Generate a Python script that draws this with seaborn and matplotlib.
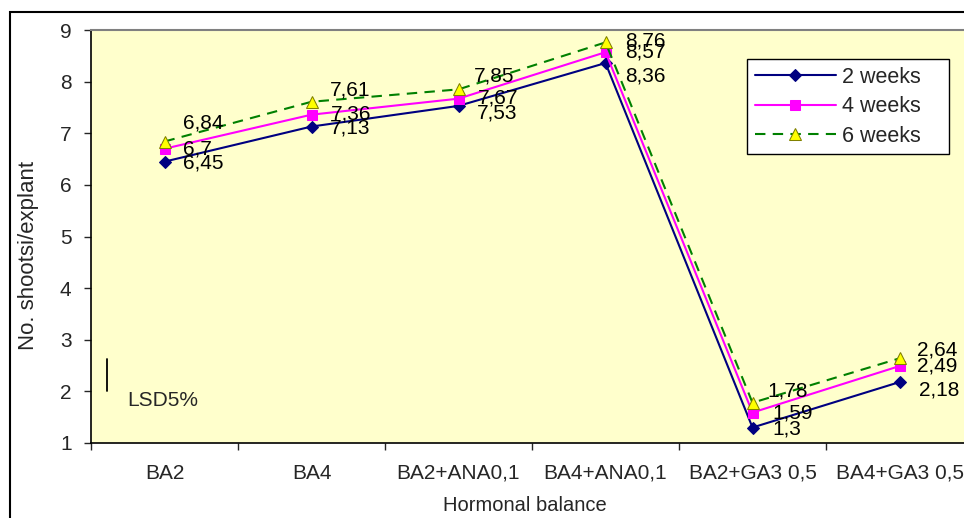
import numpy as np
import pandas as pd
import matplotlib
matplotlib.use("Agg")
import matplotlib.pyplot as plt
import seaborn as sns
from matplotlib.patches import Rectangle

# data
balances = ["BA2", "BA4", "BA2+ANA0,1", "BA4+ANA0,1", "BA2+GA3 0,5", "BA4+GA3 0,5"]
weeks2 = [6.45, 7.13, 7.53, 8.36, 1.3, 2.18]
weeks4 = [6.7, 7.36, 7.67, 8.57, 1.59, 2.49]
weeks6 = [6.84, 7.61, 7.85, 8.76, 1.78, 2.64]
series_names = ["2 weeks", "4 weeks", "6 weeks"]
lsd_base = 2.0
lsd_value = 0.62

# label nudges in pixels (dx right, dy down)
label_offsets = {
    "2 weeks": [(18, 1), (18, 1), (18, 7), (20, 13), (20, 1), (20, 8)],
    "4 weeks": [(18, 0), (19, -1), (19, -1), (20, 0), (20, 0), (18, 0)],
    "6 weeks": [(18, -19), (18, -12), (15, -13), (20, -1), (15, -12), (18, -8)],
}

styles = {
    "2 weeks": dict(color="#000080", marker="D", markersize=6.5, markerfacecolor="#000080",
                    markeredgecolor="#000080", linestyle="-"),
    "4 weeks": dict(color="#FF00FF", marker="s", markersize=7, markerfacecolor="#FF00FF",
                    markeredgecolor="#FF00FF", linestyle="-"),
    "6 weeks": dict(color="#008000", marker="^", markersize=8.5, markerfacecolor="#FFFF00",
                    markeredgecolor="#808000", linestyle=(0, (5, 3.5))),
}

df = pd.DataFrame({
    "pos": np.tile(np.arange(len(balances)), 3),
    "shoots": weeks2 + weeks4 + weeks6,
    "period": np.repeat(series_names, len(balances)),
})


def fmt(v):
    return f"{v:g}".replace(".", ",")


def main():
    sns.set_style("white")
    plt.rcParams["font.family"] = ["Liberation Sans", "DejaVu Sans"]

    fig = plt.figure(figsize=(9.64, 5.18), dpi=100)
    ax = fig.add_axes([91 / 964, 75 / 518, 882 / 964, 413 / 518])
    ax.set_facecolor("#FFFFCC")

    for name in series_names:
        sub = df[df["period"] == name]
        sns.lineplot(data=sub, x="pos", y="shoots", ax=ax, label=name,
                     linewidth=1.5, sort=False, **styles[name])
        for (x, y), (dx, dy) in zip(zip(sub["pos"], sub["shoots"]), label_offsets[name]):
            ax.annotate(fmt(y), (x, y), xytext=(dx, -dy), textcoords="offset pixels",
                        ha="left", va="center", fontsize=15, color="black")

    # LSD bar
    ax.plot([-0.391, -0.391], [lsd_base, lsd_base + lsd_value], color="black", lw=1.3)
    ax.text(-0.255, 1.83, "LSD5%", ha="left", va="center", fontsize=15)

    ax.set_xlim(-0.5, len(balances) - 0.5)
    ax.set_ylim(1, 9)
    ax.set_yticks(range(1, 10))
    ax.set_xticks(np.arange(len(balances) + 1) - 0.5)
    ax.set_xticklabels([])
    ax.set_xticks(np.arange(len(balances)), minor=True)
    ax.set_xticklabels(balances, minor=True)
    ax.tick_params(axis="x", which="major", direction="out", length=5, width=1, bottom=True)
    ax.tick_params(axis="x", which="minor", length=0, pad=15, labelsize=15)
    ax.tick_params(axis="y", direction="out", length=5, width=1, left=True, pad=9, labelsize=15)

    for side in ["left", "bottom"]:
        ax.spines[side].set_color("black")
        ax.spines[side].set_linewidth(1.2)
    ax.spines["top"].set_color("#808080")
    ax.spines["top"].set_linewidth(1.5)
    ax.spines["right"].set_visible(False)

    ax.set_xlabel("Hormonal balance", fontsize=14.5)
    ax.xaxis.set_label_coords((525 - 91) / 882, -(496 - 443) / 413)
    ax.set_ylabel("No. shootsi/explant", fontsize=16)
    ax.yaxis.set_label_coords(-(91 - 39) / 882, (443 - 255) / 413)

    leg = ax.legend(loc="upper left",
                    bbox_to_anchor=(747 / 964, 1 - 153 / 518, 202 / 964, 94 / 518),
                    bbox_transform=fig.transFigure, mode="expand", fontsize=15.5,
                    frameon=True, fancybox=False, framealpha=1, edgecolor="black",
                    handlelength=3.8, handletextpad=0.25, labelspacing=0.4,
                    borderpad=0.35, borderaxespad=0)
    leg.get_frame().set_linewidth(1)

    # outer chart border
    fig.patches.append(Rectangle((10 / 964, -0.1), 1.2, 1 - 12 / 518 + 0.1,
                                 transform=fig.transFigure, fill=False,
                                 edgecolor="black", linewidth=1.5))

    fig.savefig("out.png", dpi=100)


if __name__ == "__main__":
    main()
